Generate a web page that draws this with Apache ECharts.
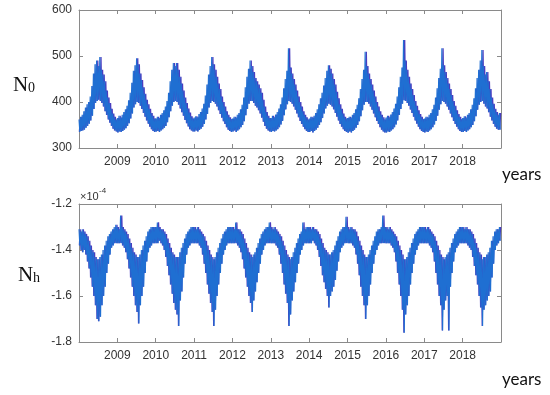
<!DOCTYPE html>
<html><head><meta charset="utf-8">
<script src="https://cdn.jsdelivr.net/npm/echarts@6/dist/echarts.min.js"></script>
<style>html,body{margin:0;padding:0;background:#fff}#c{width:550px;height:395px}</style>
</head><body><div id="c"></div>
<script>
// Semi-monthly samples (24 per year, 2008-2018): upper and lower extent of the noisy daily series
const START_YEAR = 2008;
const END_YEAR = 2019;
const N0_TICKS = [300, 400, 500, 600];
const NH_TICKS = [-1.8, -1.6, -1.4, -1.2];

const N0_HI = [
  362,368,372,380,388,395,400,412,435,462,482,490,478,498,470,460,445,425,410,398,385,375,368,362, // 2008
  365,370,366,372,378,384,392,404,420,442,468,480,495,482,462,448,432,418,405,395,385,376,370,364, // 2009
  364,368,365,372,376,382,390,402,420,445,470,485,478,485,470,455,440,425,410,398,386,377,369,364, // 2010
  366,369,367,374,378,386,396,414,438,460,478,498,482,470,455,440,428,412,400,390,380,372,367,363, // 2011
  364,368,366,372,376,384,394,410,432,455,472,490,478,465,452,445,438,430,420,405,390,378,370,365, // 2012
  365,370,367,373,378,386,395,410,430,450,468,517,475,462,450,438,425,412,400,390,380,372,367,362, // 2013
  364,368,366,370,376,384,395,408,420,436,452,468,480,472,462,450,438,422,408,395,385,375,368,364, // 2014
  365,368,366,372,376,384,394,408,428,450,470,509,478,462,450,438,425,412,400,390,380,372,367,362, // 2015
  366,370,367,373,378,386,396,412,432,455,475,535,490,470,455,440,428,415,402,392,382,374,368,363, // 2016
  364,368,366,372,376,384,394,410,430,452,472,517,480,465,452,440,428,415,402,392,382,374,368,363, // 2017
  365,369,366,372,376,384,394,408,430,452,470,490,513,478,460,465,445,428,410,396,385,378,372,376  // 2018
];
const N0_LO = [
  335,337,338,340,344,348,353,360,370,385,398,402,405,402,398,390,380,372,362,355,348,342,338,336, // 2008
  334,336,335,337,340,343,348,354,364,375,388,395,400,398,392,385,376,368,360,353,346,341,337,335, // 2009
  336,337,335,338,341,344,348,356,367,380,392,400,402,400,394,386,378,370,361,354,347,341,338,336, // 2010
  336,338,336,339,342,346,352,362,374,388,398,402,400,396,390,382,374,366,358,352,345,340,337,335, // 2011
  336,338,335,338,341,345,350,358,371,385,396,402,402,398,392,388,382,375,366,357,348,342,338,336, // 2012
  335,337,336,338,341,345,351,359,371,384,395,402,400,396,390,383,375,367,359,352,346,341,337,335, // 2013
  335,337,334,337,340,344,350,356,365,375,386,392,396,394,390,384,376,368,360,352,346,341,337,335, // 2014
  333,336,334,337,340,344,350,358,369,382,394,400,400,396,390,383,375,367,359,352,345,340,336,334, // 2015
  334,336,335,338,341,345,351,360,372,385,396,404,402,398,392,384,376,368,360,353,346,341,337,335, // 2016
  334,336,335,338,341,345,351,359,370,383,395,402,400,396,390,383,375,367,359,352,346,341,337,335, // 2017
  335,337,335,338,341,345,350,358,369,383,394,400,402,396,390,386,378,368,360,352,346,342,340,340  // 2018
];
// Nh in units of 1e-4
const NH_HI = [
  -1.31,-1.32,-1.31,-1.32,-1.33,-1.34,-1.36,-1.38,-1.40,-1.41,-1.43,-1.44,-1.44,-1.43,-1.42,-1.40,-1.38,-1.36,-1.34,-1.33,-1.32,-1.31,-1.30,-1.29, // 2008
  -1.30,-1.31,-1.25,-1.30,-1.31,-1.32,-1.33,-1.35,-1.37,-1.39,-1.41,-1.42,-1.43,-1.43,-1.42,-1.40,-1.38,-1.36,-1.34,-1.32,-1.31,-1.30,-1.30,-1.30, // 2009
  -1.30,-1.28,-1.30,-1.31,-1.31,-1.32,-1.33,-1.35,-1.37,-1.39,-1.41,-1.42,-1.43,-1.43,-1.43,-1.41,-1.39,-1.37,-1.35,-1.33,-1.32,-1.31,-1.30,-1.30, // 2010
  -1.30,-1.31,-1.30,-1.31,-1.32,-1.33,-1.34,-1.36,-1.38,-1.40,-1.42,-1.43,-1.44,-1.43,-1.41,-1.39,-1.37,-1.35,-1.33,-1.32,-1.31,-1.30,-1.30,-1.30, // 2011
  -1.30,-1.31,-1.28,-1.31,-1.31,-1.32,-1.33,-1.35,-1.37,-1.39,-1.41,-1.42,-1.43,-1.42,-1.41,-1.39,-1.37,-1.35,-1.33,-1.32,-1.31,-1.30,-1.30,-1.28, // 2012
  -1.30,-1.31,-1.30,-1.31,-1.32,-1.33,-1.34,-1.36,-1.38,-1.40,-1.42,-1.43,-1.44,-1.43,-1.41,-1.39,-1.37,-1.35,-1.33,-1.32,-1.28,-1.31,-1.30,-1.30, // 2013
  -1.30,-1.31,-1.30,-1.31,-1.31,-1.32,-1.33,-1.35,-1.37,-1.39,-1.40,-1.41,-1.42,-1.42,-1.41,-1.40,-1.38,-1.36,-1.34,-1.32,-1.31,-1.30,-1.30,-1.255, // 2014
  -1.30,-1.31,-1.30,-1.31,-1.31,-1.32,-1.34,-1.36,-1.38,-1.40,-1.42,-1.43,-1.43,-1.42,-1.40,-1.38,-1.36,-1.34,-1.32,-1.31,-1.31,-1.30,-1.25,-1.30, // 2015
  -1.30,-1.31,-1.30,-1.31,-1.32,-1.33,-1.34,-1.36,-1.38,-1.40,-1.42,-1.44,-1.44,-1.43,-1.41,-1.39,-1.37,-1.35,-1.33,-1.32,-1.31,-1.30,-1.30,-1.30, // 2016
  -1.30,-1.31,-1.30,-1.31,-1.32,-1.33,-1.34,-1.36,-1.38,-1.40,-1.42,-1.43,-1.44,-1.43,-1.42,-1.41,-1.39,-1.37,-1.35,-1.33,-1.32,-1.31,-1.30,-1.30, // 2017
  -1.30,-1.31,-1.30,-1.31,-1.31,-1.32,-1.33,-1.35,-1.37,-1.39,-1.41,-1.42,-1.44,-1.43,-1.43,-1.42,-1.41,-1.39,-1.36,-1.34,-1.32,-1.31,-1.31,-1.30  // 2018
];
const NH_LO = [
  -1.38,-1.40,-1.41,-1.40,-1.42,-1.45,-1.48,-1.52,-1.56,-1.60,-1.64,-1.70,-1.71,-1.69,-1.64,-1.60,-1.56,-1.50,-1.46,-1.42,-1.39,-1.38,-1.37,-1.37, // 2008
  -1.37,-1.37,-1.37,-1.38,-1.39,-1.41,-1.44,-1.48,-1.52,-1.56,-1.60,-1.64,-1.67,-1.72,-1.64,-1.60,-1.56,-1.50,-1.45,-1.41,-1.39,-1.38,-1.37,-1.37, // 2009
  -1.37,-1.37,-1.36,-1.37,-1.38,-1.40,-1.43,-1.47,-1.51,-1.55,-1.59,-1.63,-1.66,-1.68,-1.73,-1.62,-1.58,-1.52,-1.46,-1.42,-1.39,-1.38,-1.37,-1.37, // 2010
  -1.37,-1.37,-1.37,-1.38,-1.39,-1.42,-1.46,-1.50,-1.55,-1.59,-1.63,-1.67,-1.73,-1.66,-1.60,-1.55,-1.50,-1.46,-1.42,-1.40,-1.38,-1.37,-1.37,-1.37, // 2011
  -1.37,-1.37,-1.37,-1.38,-1.39,-1.41,-1.44,-1.48,-1.52,-1.56,-1.60,-1.63,-1.67,-1.62,-1.58,-1.54,-1.50,-1.46,-1.42,-1.40,-1.38,-1.37,-1.37,-1.37, // 2012
  -1.37,-1.37,-1.37,-1.38,-1.39,-1.42,-1.46,-1.50,-1.55,-1.59,-1.63,-1.73,-1.68,-1.62,-1.58,-1.54,-1.50,-1.46,-1.42,-1.40,-1.38,-1.37,-1.37,-1.37, // 2013
  -1.37,-1.37,-1.36,-1.37,-1.38,-1.40,-1.43,-1.47,-1.51,-1.54,-1.57,-1.60,-1.65,-1.60,-1.58,-1.56,-1.53,-1.49,-1.45,-1.41,-1.39,-1.38,-1.37,-1.37, // 2014
  -1.37,-1.37,-1.37,-1.38,-1.39,-1.42,-1.46,-1.51,-1.56,-1.60,-1.64,-1.70,-1.64,-1.60,-1.55,-1.50,-1.46,-1.42,-1.40,-1.38,-1.37,-1.37,-1.37,-1.37, // 2015
  -1.37,-1.37,-1.37,-1.38,-1.39,-1.41,-1.45,-1.50,-1.55,-1.60,-1.66,-1.76,-1.68,-1.64,-1.60,-1.55,-1.50,-1.46,-1.42,-1.40,-1.38,-1.37,-1.37,-1.37, // 2016
  -1.37,-1.37,-1.37,-1.38,-1.39,-1.41,-1.45,-1.50,-1.55,-1.60,-1.64,-1.75,-1.66,-1.62,-1.60,-1.75,-1.56,-1.50,-1.45,-1.41,-1.39,-1.38,-1.37,-1.37, // 2017
  -1.37,-1.37,-1.37,-1.38,-1.39,-1.40,-1.43,-1.47,-1.51,-1.55,-1.60,-1.65,-1.73,-1.66,-1.64,-1.62,-1.60,-1.58,-1.52,-1.46,-1.40,-1.38,-1.37,-1.36  // 2018
];

const PER_YEAR = 24;
function zig(hi, lo, phase) {
  const out = [];
  for (let i = 0; i < hi.length; i++) {
    const t = START_YEAR + i / PER_YEAR;
    if (phase === 0) { out.push([t, hi[i]]); out.push([t + 0.5 / PER_YEAR, lo[i]]); }
    else { out.push([t + 0.25 / PER_YEAR, lo[i]]); out.push([t + 0.75 / PER_YEAR, hi[i]]); }
  }
  return out;
}

const AX = '#8a8a8a';
const LBL = { color: '#333', fontFamily: 'Liberation Sans, Arial, sans-serif', fontSize: 12 };
function xAx(grid, top) {
  return {
    type: 'value', gridIndex: grid, position: top ? 'top' : 'bottom',
    min: START_YEAR, max: END_YEAR, interval: 1,
    axisLine: { onZero: false, lineStyle: { color: AX } },
    axisTick: { inside: true, length: 4, lineStyle: { color: AX } },
    splitLine: { show: false },
    axisLabel: top ? { show: false } : Object.assign({ margin: 8, formatter: v => (v === START_YEAR || v === END_YEAR) ? '' : String(Math.round(v)) }, LBL)
  };
}
function yAx(grid, right, ticks, fmt) {
  return {
    type: 'value', gridIndex: grid, position: right ? 'right' : 'left',
    min: ticks[0], max: ticks[ticks.length - 1], interval: ticks[1] - ticks[0],
    axisLine: { show: true, onZero: false, lineStyle: { color: AX } },
    axisTick: { show: true, inside: true, length: 4, lineStyle: { color: AX } },
    splitLine: { show: false },
    axisLabel: right ? { show: false } : Object.assign({ margin: 7, formatter: fmt }, LBL)
  };
}

const BLUE = '#1f6fd2', PURPLE = '#4a3cbf';
function ser(x, y, data, color, z, w) {
  return { type: 'line', xAxisIndex: x, yAxisIndex: y, data: data, showSymbol: false, symbol: 'none',
    lineStyle: { color: color, width: w }, z: z, silent: true, animation: false };
}

const chart = echarts.init(document.getElementById('c'), null, { renderer: 'canvas' });
chart.setOption({
  backgroundColor: '#fff',
  animation: false,
  grid: [
    { left: 79, right: 49, top: 10, height: 138 },
    { left: 79, right: 49, top: 204, height: 138 }
  ],
  xAxis: [xAx(0, false), xAx(0, true), xAx(1, false), xAx(1, true)],
  yAxis: [
    yAx(0, false, N0_TICKS, v => String(Math.round(v))),
    yAx(0, true, N0_TICKS),
    yAx(1, false, NH_TICKS, v => v.toFixed(1)),
    yAx(1, true, NH_TICKS)
  ],
  series: [
    ser(0, 0, zig(N0_HI, N0_LO, 1), PURPLE, 2, 1.3),
    ser(0, 0, zig(N0_HI, N0_LO, 0), BLUE, 3, 1.1),
    ser(2, 2, zig(NH_HI, NH_LO, 1), PURPLE, 2, 1.3),
    ser(2, 2, zig(NH_HI, NH_LO, 0), BLUE, 3, 1.1)
  ],
  graphic: [
    { type: 'text', left: 13, top: 75, style: { text: 'N', fontFamily: 'Liberation Serif, Times New Roman, serif', fontSize: 21, fill: '#111' } },
    { type: 'text', left: 28, top: 81, style: { text: '0', fontFamily: 'Liberation Serif, Times New Roman, serif', fontSize: 14, fill: '#111' } },
    { type: 'text', left: 18, top: 265, style: { text: 'N', fontFamily: 'Liberation Serif, Times New Roman, serif', fontSize: 21, fill: '#111' } },
    { type: 'text', left: 33, top: 271, style: { text: 'h', fontFamily: 'Liberation Serif, Times New Roman, serif', fontSize: 14, fill: '#111' } },
    { type: 'text', left: 80, top: 191, style: { text: '×10', fontFamily: 'Liberation Sans, Arial, sans-serif', fontSize: 11, fill: '#333' } },
    { type: 'text', left: 99, top: 187, style: { text: '-4', fontFamily: 'Liberation Sans, Arial, sans-serif', fontSize: 8, fill: '#333' } },
    { type: 'text', left: 502, top: 166, style: { text: 'years', fontFamily: 'Lato, Open Sans, sans-serif', fontSize: 17, fill: '#111' } },
    { type: 'text', left: 502, top: 371, style: { text: 'years', fontFamily: 'Lato, Open Sans, sans-serif', fontSize: 17, fill: '#111' } }
  ]
});
</script>
</body></html>
